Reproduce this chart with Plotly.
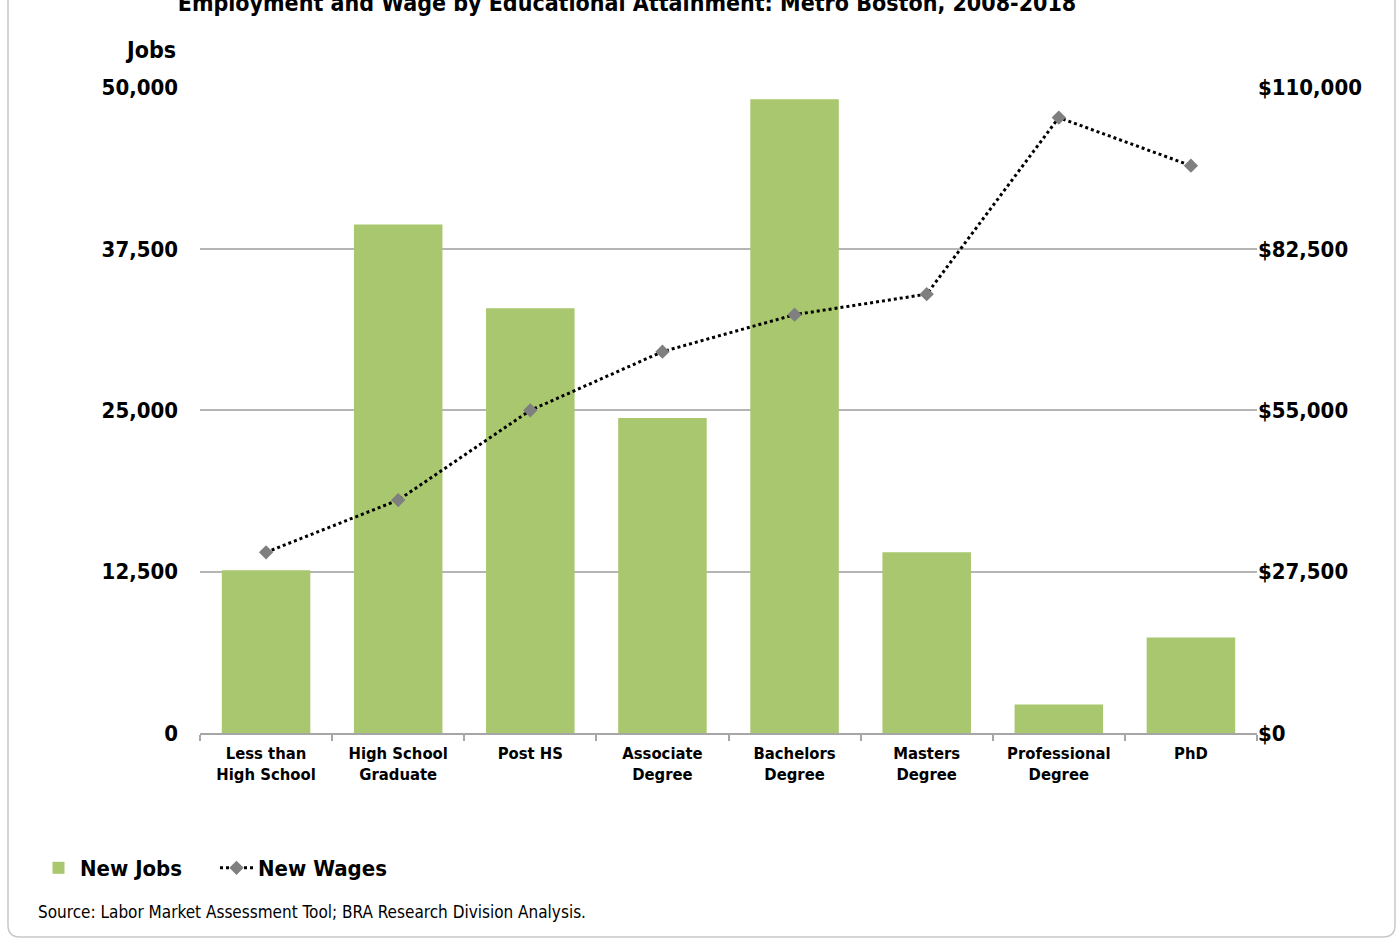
import plotly.graph_objects as go

categories = ["Less than<br>High School", "High School<br>Graduate", "Post HS", "Associate<br>Degree",
              "Bachelors<br>Degree", "Masters<br>Degree", "Professional<br>Degree", "PhD"]
new_jobs = [12600, 39400, 32900, 24400, 49100, 14000, 2200, 7400]
new_wages = [30800, 39700, 55000, 65000, 71300, 74800, 104900, 96700]
jobs_ticks = [0, 12500, 25000, 37500, 50000]
wage_ticks = [0, 27500, 55000, 82500, 110000]
wage_labels = ["$0", "$27,500", "$55,000", "$82,500", "$110,000"]

FONT = "DejaVu Sans Condensed, Liberation Sans Narrow, Open Sans, sans-serif"
W, H = 1398, 939
L, R, T, B = 200, 141, 87, 206
pw, ph = W - L - R, H - T - B

def px_x(p):
    return (p - L) / pw

def px_y(p):
    return (H - B - p) / ph

fig = go.Figure()
fig.add_trace(go.Bar(
    x=categories, y=new_jobs, name="New Jobs",
    marker=dict(color="#A9C76E", line=dict(width=0)),
    width=0.67, yaxis="y",
))
fig.add_trace(go.Scatter(
    x=categories, y=new_wages, name="New Wages", yaxis="y2",
    mode="lines+markers",
    line=dict(color="black", width=3, dash="dot"),
    marker=dict(symbol="diamond", size=11, color="#7F7F7F"),
))

# rounded frame
x0, x1 = px_x(8), px_x(1395)
y0, y1 = px_y(937), px_y(-20)
rx, ry = 12 / pw, 12 / ph
path = (f"M {x0},{y1} L {x0},{y0+ry} Q {x0},{y0} {x0+rx},{y0} "
        f"L {x1-rx},{y0} Q {x1},{y0} {x1},{y0+ry} L {x1},{y1}")
fig.add_shape(type="path", path=path, xref="paper", yref="paper",
              line=dict(color="#C8C8C8", width=1.5), layer="below")

fig.update_layout(
    width=W, height=H,
    margin=dict(l=L, r=R, t=T, b=B, autoexpand=False),
    paper_bgcolor="white", plot_bgcolor="white",
    font=dict(family=FONT, color="black"),
    title=dict(text="<b>Employment and Wage by Educational Attainment: Metro Boston, 2008-2018</b>",
               x=627 / W, xanchor="center", xref="container",
               y=1 - 3 / H, yanchor="middle", yref="container",
               font=dict(size=23, family=FONT, color="black")),
    bargap=0.33,
    xaxis=dict(
        showline=True, linecolor="#A6A6A6", linewidth=2,
        ticks="outside", tickson="boundaries", ticklen=6, tickcolor="#A6A6A6", tickwidth=1.5,
        tickfont=dict(size=16.5, family=FONT, color="black", weight="bold"),
        showgrid=False, ticklabelstandoff=4,
    ),
    yaxis=dict(
        range=[0, 50050], tickvals=jobs_ticks, tickformat=",d",
        showgrid=True, gridcolor="#B5B5B5", gridwidth=1.5,
        zeroline=False, showline=False,
        tickfont=dict(size=22, family=FONT, color="black", weight="bold"),
        ticklabelstandoff=21,
    ),
    yaxis2=dict(
        range=[0, 110110], tickvals=wage_ticks, ticktext=wage_labels,
        overlaying="y", side="right", showgrid=False, zeroline=False, showline=False,
        tickfont=dict(size=22, family=FONT, color="black", weight="bold"),
        ticklabelstandoff=0,
    ),
    legend=dict(
        orientation="h", x=px_x(37), y=px_y(868), xanchor="left", yanchor="middle",
        font=dict(size=22, family=FONT, color="black", weight=600),
        itemwidth=33, entrywidth=130, traceorder="normal", bgcolor="rgba(0,0,0,0)",
    ),
    showlegend=True,
)

fig.add_annotation(text="<b>Jobs</b>", xref="paper", yref="paper",
                   x=px_x(150), y=px_y(50), xanchor="center", yanchor="middle",
                   showarrow=False, font=dict(size=23, family=FONT, color="black"))
fig.add_annotation(text="Source: Labor Market Assessment Tool; BRA Research Division Analysis.",
                   xref="paper", yref="paper", x=px_x(36), y=px_y(912),
                   xanchor="left", yanchor="middle", showarrow=False,
                   font=dict(size=17, family=FONT, color="black"))

fig.write_html("out.html")
